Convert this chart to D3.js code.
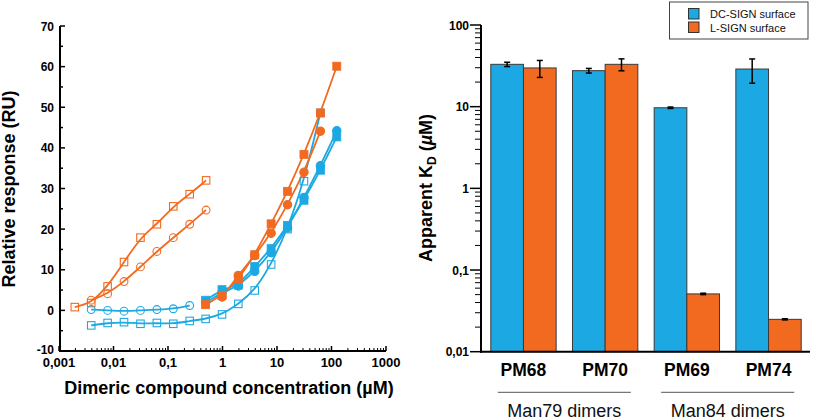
<!DOCTYPE html>
<html>
<head>
<meta charset="utf-8">
<script src="https://cdn.jsdelivr.net/npm/d3@7"></script>
<style>
  body { margin: 0; background: #fff; }
  text { font-family: "Liberation Sans", Arial, sans-serif; }
</style>
</head>
<body>
<svg id="chart" width="813" height="420"></svg>
<script>
// ---- left panel data (concentrations in µM, response in RU) ----
const concLow = [0.00195, 0.0039, 0.0078, 0.0156, 0.03125, 0.0625, 0.125, 0.25, 0.5];
const concHigh = [0.49, 0.98, 1.95, 3.9, 7.8, 15.6, 31.25, 62.5, 125];
const concBlueSq = [0.0039, 0.0078, 0.0156, 0.03125, 0.0625, 0.125, 0.25, 0.49, 0.98, 1.95, 3.9, 7.8, 15.6, 31.25, 62.5];

const lsignOpenSq = [0.8, 1.8, 5.9, 11.9, 17.9, 21.2, 25.6, 28.6, 32.0];
const lsignOpenCi = [2.5, 4.1, 7.1, 10.7, 14.5, 17.9, 21.2, 24.7];
const dcsignOpenCi = [0.2, 0.0, -0.2, 0.0, 0.2, 0.4, 1.2];
const dcsignOpenSq = [-3.7, -3.1, -2.9, -3.3, -3.1, -3.3, -2.6, -2.1, -1.0, 1.6, 4.9, 11.3, 20.0, 31.8, 48.6];
const lsignFillSq = [1.4, 3.7, 7.6, 13.7, 21.3, 29.3, 38.4, 48.6, 60.1];
const lsignFillCi = [3.3, 8.6, 13.5, 19.0, 26.0, 34.0, 44.1];
const dcsignFillSq = [2.5, 5.1, 6.2, 10.8, 15.2, 20.9, 27.1, 34.5, 42.7];
const dcsignFillCi = [2.0, 4.3, 6.0, 9.6, 14.2, 20.3, 27.8, 35.6, 44.2];

const xTicksLeft = [0.001, 0.01, 0.1, 1, 10, 100, 1000];
const xTickLabelsLeft = ["0,001", "0,01", "0,1", "1", "10", "100", "1000"];
const yTicksLeft = [-10, 0, 10, 20, 30, 40, 50, 60, 70];

// ---- right panel data (apparent KD in µM) ----
const compounds = ["PM68", "PM70", "PM69", "PM74"];
const dcsignKd = [33, 27.6, 9.7, 28.9];
const dcsignErr = [2, 1.8, 0.2, 9.5];
const lsignKd = [29.8, 33, 0.051, 0.0249];
const lsignErr = [7, 5.5, 0.001, 0.0004];
const families = ["Man79 dimers", "Man84 dimers"];
const familyMembers = [["PM68", "PM70"], ["PM69", "PM74"]];
const yTicksRight = [0.01, 0.1, 1, 10, 100];
const yTickLabelsRight = ["0,01", "0,1", "1", "10", "100"];
const legendLabels = ["DC-SIGN surface", "L-SIGN surface"];

const BLUE = "#1ca9e3", ORANGE = "#f26a1f";

const svg = d3.select("#chart");

// ================= left panel =================
const x = d3.scaleLog().domain([0.001, 1000]).range([59, 386]);
const y = d3.scaleLinear().domain([-10, 70]).range([351, 26]);

const left = svg.append("g");

// minor log ticks on x (pointing up)
const minorX = [];
for (let e = -3; e < 3; e++) for (let k = 2; k <= 9; k++) minorX.push(k * Math.pow(10, e));
left.selectAll(".mx").data(minorX).enter().append("line")
  .attr("x1", d => x(d)).attr("x2", d => x(d))
  .attr("y1", y(-10)).attr("y2", y(-10) - 3)
  .attr("stroke", "#000").attr("stroke-width", 1);
left.selectAll(".Mx").data(xTicksLeft).enter().append("line")
  .attr("x1", d => x(d)).attr("x2", d => x(d))
  .attr("y1", y(-10)).attr("y2", y(-10) - 5)
  .attr("stroke", "#000").attr("stroke-width", 1.5);
left.selectAll(".xl").data(xTicksLeft).enter().append("text")
  .attr("x", d => x(d)).attr("y", 367)
  .attr("text-anchor", "middle").attr("font-size", 13).attr("font-weight", "bold")
  .text((d, i) => xTickLabelsLeft[i]);

// y ticks (pointing right), minor at the fives
const minorY = d3.range(-5, 70, 10);
left.selectAll(".my").data(minorY).enter().append("line")
  .attr("x1", 60).attr("x2", 63)
  .attr("y1", d => y(d)).attr("y2", d => y(d))
  .attr("stroke", "#000").attr("stroke-width", 1.5);
left.selectAll(".My").data(yTicksLeft).enter().append("line")
  .attr("x1", 60).attr("x2", 65)
  .attr("y1", d => y(d)).attr("y2", d => y(d))
  .attr("stroke", "#000").attr("stroke-width", 1.5);
left.selectAll(".yl").data(yTicksLeft).enter().append("text")
  .attr("x", 54).attr("y", d => y(d) + (d === -10 ? 3 : 4.5))
  .attr("text-anchor", "end").attr("font-size", 12).attr("font-weight", "bold")
  .text(d => d);

left.append("line").attr("x1", 60).attr("x2", 60).attr("y1", y(70)).attr("y2", y(-10) + 1)
  .attr("stroke", "#000").attr("stroke-width", 2);
left.append("line").attr("x1", 59).attr("x2", 386).attr("y1", y(-10)).attr("y2", y(-10))
  .attr("stroke", "#000").attr("stroke-width", 2);

left.append("text").attr("x", 229).attr("y", 394)
  .attr("text-anchor", "middle").attr("font-size", 18).attr("font-weight", "bold")
  .text("Dimeric compound concentration (µM)");
left.append("text").attr("transform", "translate(15,189) rotate(-90)")
  .attr("text-anchor", "middle").attr("font-size", 18).attr("font-weight", "bold")
  .text("Relative response (RU)");

const series = [
  { xs: concLow, ys: lsignOpenSq, color: ORANGE, shape: "square", filled: false },
  { xs: concLow.slice(1), ys: lsignOpenCi, color: ORANGE, shape: "circle", filled: false },
  { xs: concLow.slice(1, 8), ys: dcsignOpenCi, color: BLUE, shape: "circle", filled: false },
  { xs: concBlueSq, ys: dcsignOpenSq, color: BLUE, shape: "square", filled: false },
  { xs: concHigh, ys: dcsignFillCi, color: BLUE, shape: "circle", filled: true },
  { xs: concHigh, ys: dcsignFillSq, color: BLUE, shape: "square", filled: true },
  { xs: concHigh.slice(1, 8), ys: lsignFillCi, color: ORANGE, shape: "circle", filled: true },
  { xs: concHigh, ys: lsignFillSq, color: ORANGE, shape: "square", filled: true }
];

const line = d3.line().x(d => x(d[0])).y(d => y(d[1])).curve(d3.curveBasis);
series.forEach(s => {
  const pts = s.xs.map((c, i) => [c, s.ys[i]]);
  left.append("path").datum(pts).attr("d", line)
    .attr("fill", "none").attr("stroke", s.color).attr("stroke-width", 1.8);
});
series.forEach(s => {
  const pts = s.xs.map((c, i) => [c, s.ys[i]]);
  const g = left.append("g");
  if (s.shape === "square") {
    const sz = s.filled ? 8 : 7.5;
    g.selectAll("rect").data(pts).enter().append("rect")
      .attr("x", d => x(d[0]) - sz / 2).attr("y", d => y(d[1]) - sz / 2)
      .attr("width", sz).attr("height", sz)
      .attr("fill", s.filled ? s.color : "none")
      .attr("stroke", s.color).attr("stroke-width", s.filled ? 0.8 : 1.1);
  } else {
    g.selectAll("circle").data(pts).enter().append("circle")
      .attr("cx", d => x(d[0])).attr("cy", d => y(d[1]))
      .attr("r", s.filled ? 4.2 : 3.9)
      .attr("fill", s.filled ? s.color : "none")
      .attr("stroke", s.color).attr("stroke-width", 1.1);
  }
});

// ================= right panel =================
const right = svg.append("g");
const xb = d3.scaleBand().domain(compounds).range([481, 811]).paddingInner(0.2).paddingOuter(0.12);
const xs = d3.scaleBand().domain(["dc", "l"]).range([0, xb.bandwidth()]);
const yb = d3.scaleLog().domain([0.01, 100]).range([351.7, 25]);

// y ticks (outside, left)
const minorYR = [];
for (let e = -2; e < 2; e++) for (let k = 2; k <= 9; k++) minorYR.push(k * Math.pow(10, e));
right.selectAll(".myr").data(minorYR).enter().append("line")
  .attr("x1", 475).attr("x2", 481)
  .attr("y1", d => yb(d)).attr("y2", d => yb(d))
  .attr("stroke", "#000").attr("stroke-width", 1);
right.selectAll(".Myr").data(yTicksRight).enter().append("line")
  .attr("x1", 470).attr("x2", 481)
  .attr("y1", d => yb(d)).attr("y2", d => yb(d))
  .attr("stroke", "#000").attr("stroke-width", 1.5);
right.selectAll(".ylr").data(yTicksRight).enter().append("text")
  .attr("x", 469).attr("y", d => yb(d) + 4.5)
  .attr("text-anchor", "end").attr("font-size", 12).attr("font-weight", "bold")
  .text((d, i) => yTickLabelsRight[i]);

const groups = [
  { key: "dc", vals: dcsignKd, errs: dcsignErr, color: BLUE },
  { key: "l", vals: lsignKd, errs: lsignErr, color: ORANGE }
];
groups.forEach(gr => {
  right.selectAll(".bar-" + gr.key).data(compounds).enter().append("rect")
    .attr("x", d => xb(d) + xs(gr.key))
    .attr("y", (d, i) => yb(gr.vals[i]))
    .attr("width", xs.bandwidth())
    .attr("height", (d, i) => yb(0.01) - yb(gr.vals[i]))
    .attr("fill", gr.color).attr("stroke", "#3a3a3a").attr("stroke-width", 1);
});
groups.forEach(gr => {
  compounds.forEach((c, i) => {
    const cx = xb(c) + xs(gr.key) + xs.bandwidth() / 2;
    const lo = yb(gr.vals[i] - gr.errs[i]), hi = yb(gr.vals[i] + gr.errs[i]);
    right.append("line").attr("x1", cx).attr("x2", cx).attr("y1", lo).attr("y2", hi)
      .attr("stroke", "#000").attr("stroke-width", 1.5);
    [lo, hi].forEach(v => right.append("line")
      .attr("x1", cx - 3).attr("x2", cx + 3).attr("y1", v).attr("y2", v)
      .attr("stroke", "#000").attr("stroke-width", 1.5));
  });
});

right.append("line").attr("x1", 481).attr("x2", 481).attr("y1", 25).attr("y2", 352.7)
  .attr("stroke", "#000").attr("stroke-width", 2);
right.append("line").attr("x1", 480).attr("x2", 810).attr("y1", 351.7).attr("y2", 351.7)
  .attr("stroke", "#000").attr("stroke-width", 2);

right.selectAll(".cl").data(compounds).enter().append("text")
  .attr("x", d => xb(d) + xb.bandwidth() / 2).attr("y", 376)
  .attr("text-anchor", "middle").attr("font-size", 17.5).attr("font-weight", "bold")
  .text(d => d);

families.forEach((f, i) => {
  const a = xb(familyMembers[i][0]), b = xb(familyMembers[i][1]) + xb.bandwidth();
  right.append("line").attr("x1", a + 7).attr("x2", b - 7).attr("y1", 392.3).attr("y2", 392.3)
    .attr("stroke", "#555").attr("stroke-width", 1);
  right.append("text").attr("x", (a + b) / 2).attr("y", 417)
    .attr("text-anchor", "middle").attr("font-size", 18).attr("fill", "#111")
    .text(f);
});

const yl = right.append("text").attr("transform", "translate(432,188) rotate(-90)")
  .attr("text-anchor", "middle").attr("font-size", 18).attr("font-weight", "bold");
yl.append("tspan").text("Apparent K");
yl.append("tspan").attr("font-size", 12).attr("dy", 4).text("D");
yl.append("tspan").attr("dy", -4).text(" (");
yl.append("tspan").attr("font-style", "italic").text("µ");
yl.append("tspan").text("M)");

// legend
const lg = right.append("g");
lg.append("rect").attr("x", 669.5).attr("y", 2).attr("width", 138.5).attr("height", 37)
  .attr("fill", "#fff").attr("stroke", "#444").attr("stroke-width", 1);
legendLabels.forEach((t, i) => {
  lg.append("rect").attr("x", 688.5).attr("y", 8.5 + i * 13.5).attr("width", 10.5).attr("height", 10.5)
    .attr("fill", groups[i].color).attr("stroke", "#333").attr("stroke-width", 1);
  lg.append("text").attr("x", 710).attr("y", 18 + i * 13.5).attr("font-size", 11).attr("fill", "#111")
    .text(t);
});
</script>
</body>
</html>
